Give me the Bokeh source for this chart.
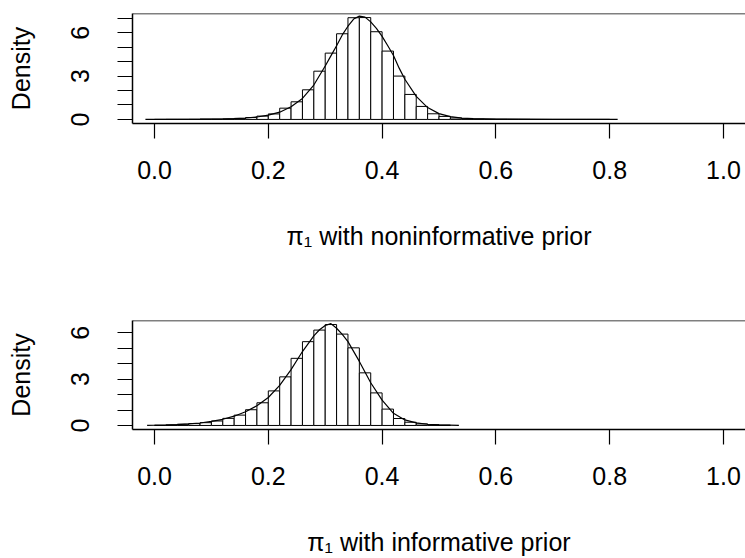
from bokeh.plotting import figure
from bokeh.layouts import column
from bokeh.models import FixedTicker, Span, Range1d, PrintfTickFormatter
from bokeh.embed import file_html
from bokeh.resources import INLINE

# ---------------- data ----------------
bin_width = 0.02

# top panel: noninformative prior, bins start at 0.00
top_bin_start = 0.0
top_density = [0.0, 0.005, 0.005, 0.01, 0.015, 0.02, 0.04, 0.07, 0.13, 0.23,
               0.38, 0.78, 1.22, 2.05, 3.34, 4.59, 5.93, 7.04, 7.05, 6.07,
               4.73, 3.00, 1.73, 0.90, 0.39, 0.21, 0.10, 0.05, 0.03, 0.015,
               0.01, 0.005, 0.005, 0.0, 0.0, 0.0, 0.0, 0.0, 0.0, 0.0]
top_curve_x = [-0.016, 0.00, 0.04, 0.08, 0.12, 0.14, 0.16, 0.18, 0.20, 0.22,
               0.24, 0.26, 0.28, 0.30, 0.31, 0.32, 0.33, 0.34, 0.35, 0.36,
               0.37, 0.38, 0.39, 0.40, 0.41, 0.42, 0.43, 0.44, 0.46, 0.48,
               0.50, 0.52, 0.54, 0.56, 0.60, 0.70, 0.814]
top_curve_y = [0.0, 0.004, 0.008, 0.015, 0.03, 0.06, 0.10, 0.17, 0.30, 0.50,
               0.88, 1.45, 2.38, 3.70, 4.40, 5.10, 5.85, 6.45, 6.95, 7.15,
               7.08, 6.75, 6.30, 5.75, 5.10, 4.42, 3.55, 2.78, 1.60, 0.82,
               0.40, 0.19, 0.09, 0.05, 0.02, 0.006, 0.0]

# bottom panel: informative prior
bot_bin_start = 0.0
bot_density = [0.02, 0.04, 0.08, 0.12, 0.18, 0.29, 0.46, 0.67, 1.02, 1.47,
               2.24, 3.15, 4.35, 5.43, 6.18, 6.54, 5.92, 5.03, 3.41, 2.11,
               1.06, 0.45, 0.21, 0.10, 0.05, 0.02]
bot_curve_x = [-0.013, 0.00, 0.02, 0.04, 0.06, 0.08, 0.10, 0.12, 0.14, 0.16,
               0.18, 0.20, 0.22, 0.24, 0.26, 0.28, 0.29, 0.30, 0.31, 0.32,
               0.33, 0.34, 0.36, 0.38, 0.40, 0.42, 0.44, 0.46, 0.48, 0.50,
               0.535]
bot_curve_y = [0.0, 0.015, 0.03, 0.06, 0.10, 0.16, 0.26, 0.40, 0.60, 0.89,
               1.28, 1.81, 2.60, 3.62, 4.79, 5.81, 6.20, 6.48, 6.60, 6.30,
               5.90, 5.43, 4.15, 2.77, 1.64, 0.79, 0.36, 0.17, 0.08, 0.04,
               0.0]

x_ticks = [0.0, 0.2, 0.4, 0.6, 0.8, 1.0]
top_y_ticks = [0, 1, 2, 3, 4, 5, 6, 7]
bot_y_ticks = [0, 1, 2, 3, 4, 5, 6]
labeled_y = [0, 3, 6]

top_xlabel = "π\u2081 with noninformative prior"
bot_xlabel = "π\u2081 with informative prior"
y_label = "Density"

FONT = "Liberation Sans"
FSIZE = "25px"


def panel(density, bin_start, cx, cy, xlabel, yticks, height, top_b, bottom_b):
    ymax = max(density)
    pad = 0.04 * ymax
    p = figure(width=745, height=height, output_backend="svg", toolbar_location=None,
               x_range=Range1d(-0.0387, 1.0387), y_range=Range1d(-pad, ymax + pad),
               min_border_left=132, min_border_right=0,
               min_border_top=top_b, min_border_bottom=bottom_b)
    p.grid.visible = False
    p.outline_line_color = None
    p.background_fill_color = "white"
    p.border_fill_color = "white"

    left = [bin_start + i * bin_width for i in range(len(density))]
    right = [l + bin_width for l in left]
    p.quad(left=left, right=right, bottom=[0] * len(density), top=density,
           fill_color="white", line_color="black", line_width=1)
    p.line(cx, cy, line_color="black", line_width=1.2)

    # top edge of box
    p.add_layout(Span(location=ymax + pad, dimension="width",
                      line_color="black", line_width=1.5))

    xa = p.xaxis[0]
    xa.ticker = FixedTicker(ticks=x_ticks)
    xa.formatter = PrintfTickFormatter(format="%.1f")
    xa.axis_line_color = "black"
    xa.axis_line_width = 1.5
    xa.major_tick_out = 15
    xa.major_tick_in = 0
    xa.major_tick_line_width = 1.2
    xa.minor_tick_line_color = None
    xa.major_label_text_font = FONT
    xa.major_label_text_font_size = FSIZE
    xa.major_label_text_color = "black"
    xa.major_label_standoff = 22
    xa.axis_label = xlabel
    xa.axis_label_text_font = FONT
    xa.axis_label_text_font_size = FSIZE
    xa.axis_label_text_font_style = "normal"
    xa.axis_label_text_color = "black"
    xa.axis_label_standoff = 40

    ya = p.yaxis[0]
    ya.ticker = FixedTicker(ticks=yticks)
    ya.major_label_overrides = {t: (str(t) if t in labeled_y else "") for t in yticks}
    ya.major_label_orientation = "vertical"
    ya.axis_line_color = "black"
    ya.axis_line_width = 1.5
    ya.major_tick_out = 15
    ya.major_tick_in = 0
    ya.major_tick_line_width = 1.2
    ya.minor_tick_line_color = None
    ya.major_label_text_font = FONT
    ya.major_label_text_font_size = FSIZE
    ya.major_label_text_color = "black"
    ya.major_label_standoff = 28
    ya.axis_label = y_label
    ya.axis_label_text_font = FONT
    ya.axis_label_text_font_size = FSIZE
    ya.axis_label_text_font_style = "normal"
    ya.axis_label_text_color = "black"
    ya.axis_label_standoff = 34
    return p


p1 = panel(top_density, top_bin_start, top_curve_x, top_curve_y, top_xlabel,
           top_y_ticks, 278, 13, 155)
p2 = panel(bot_density, bot_bin_start, bot_curve_x, bot_curve_y, bot_xlabel,
           bot_y_ticks, 280, 42, 128)

layout = column(p1, p2, spacing=0)
open("out.html", "w").write(file_html(layout, INLINE))
